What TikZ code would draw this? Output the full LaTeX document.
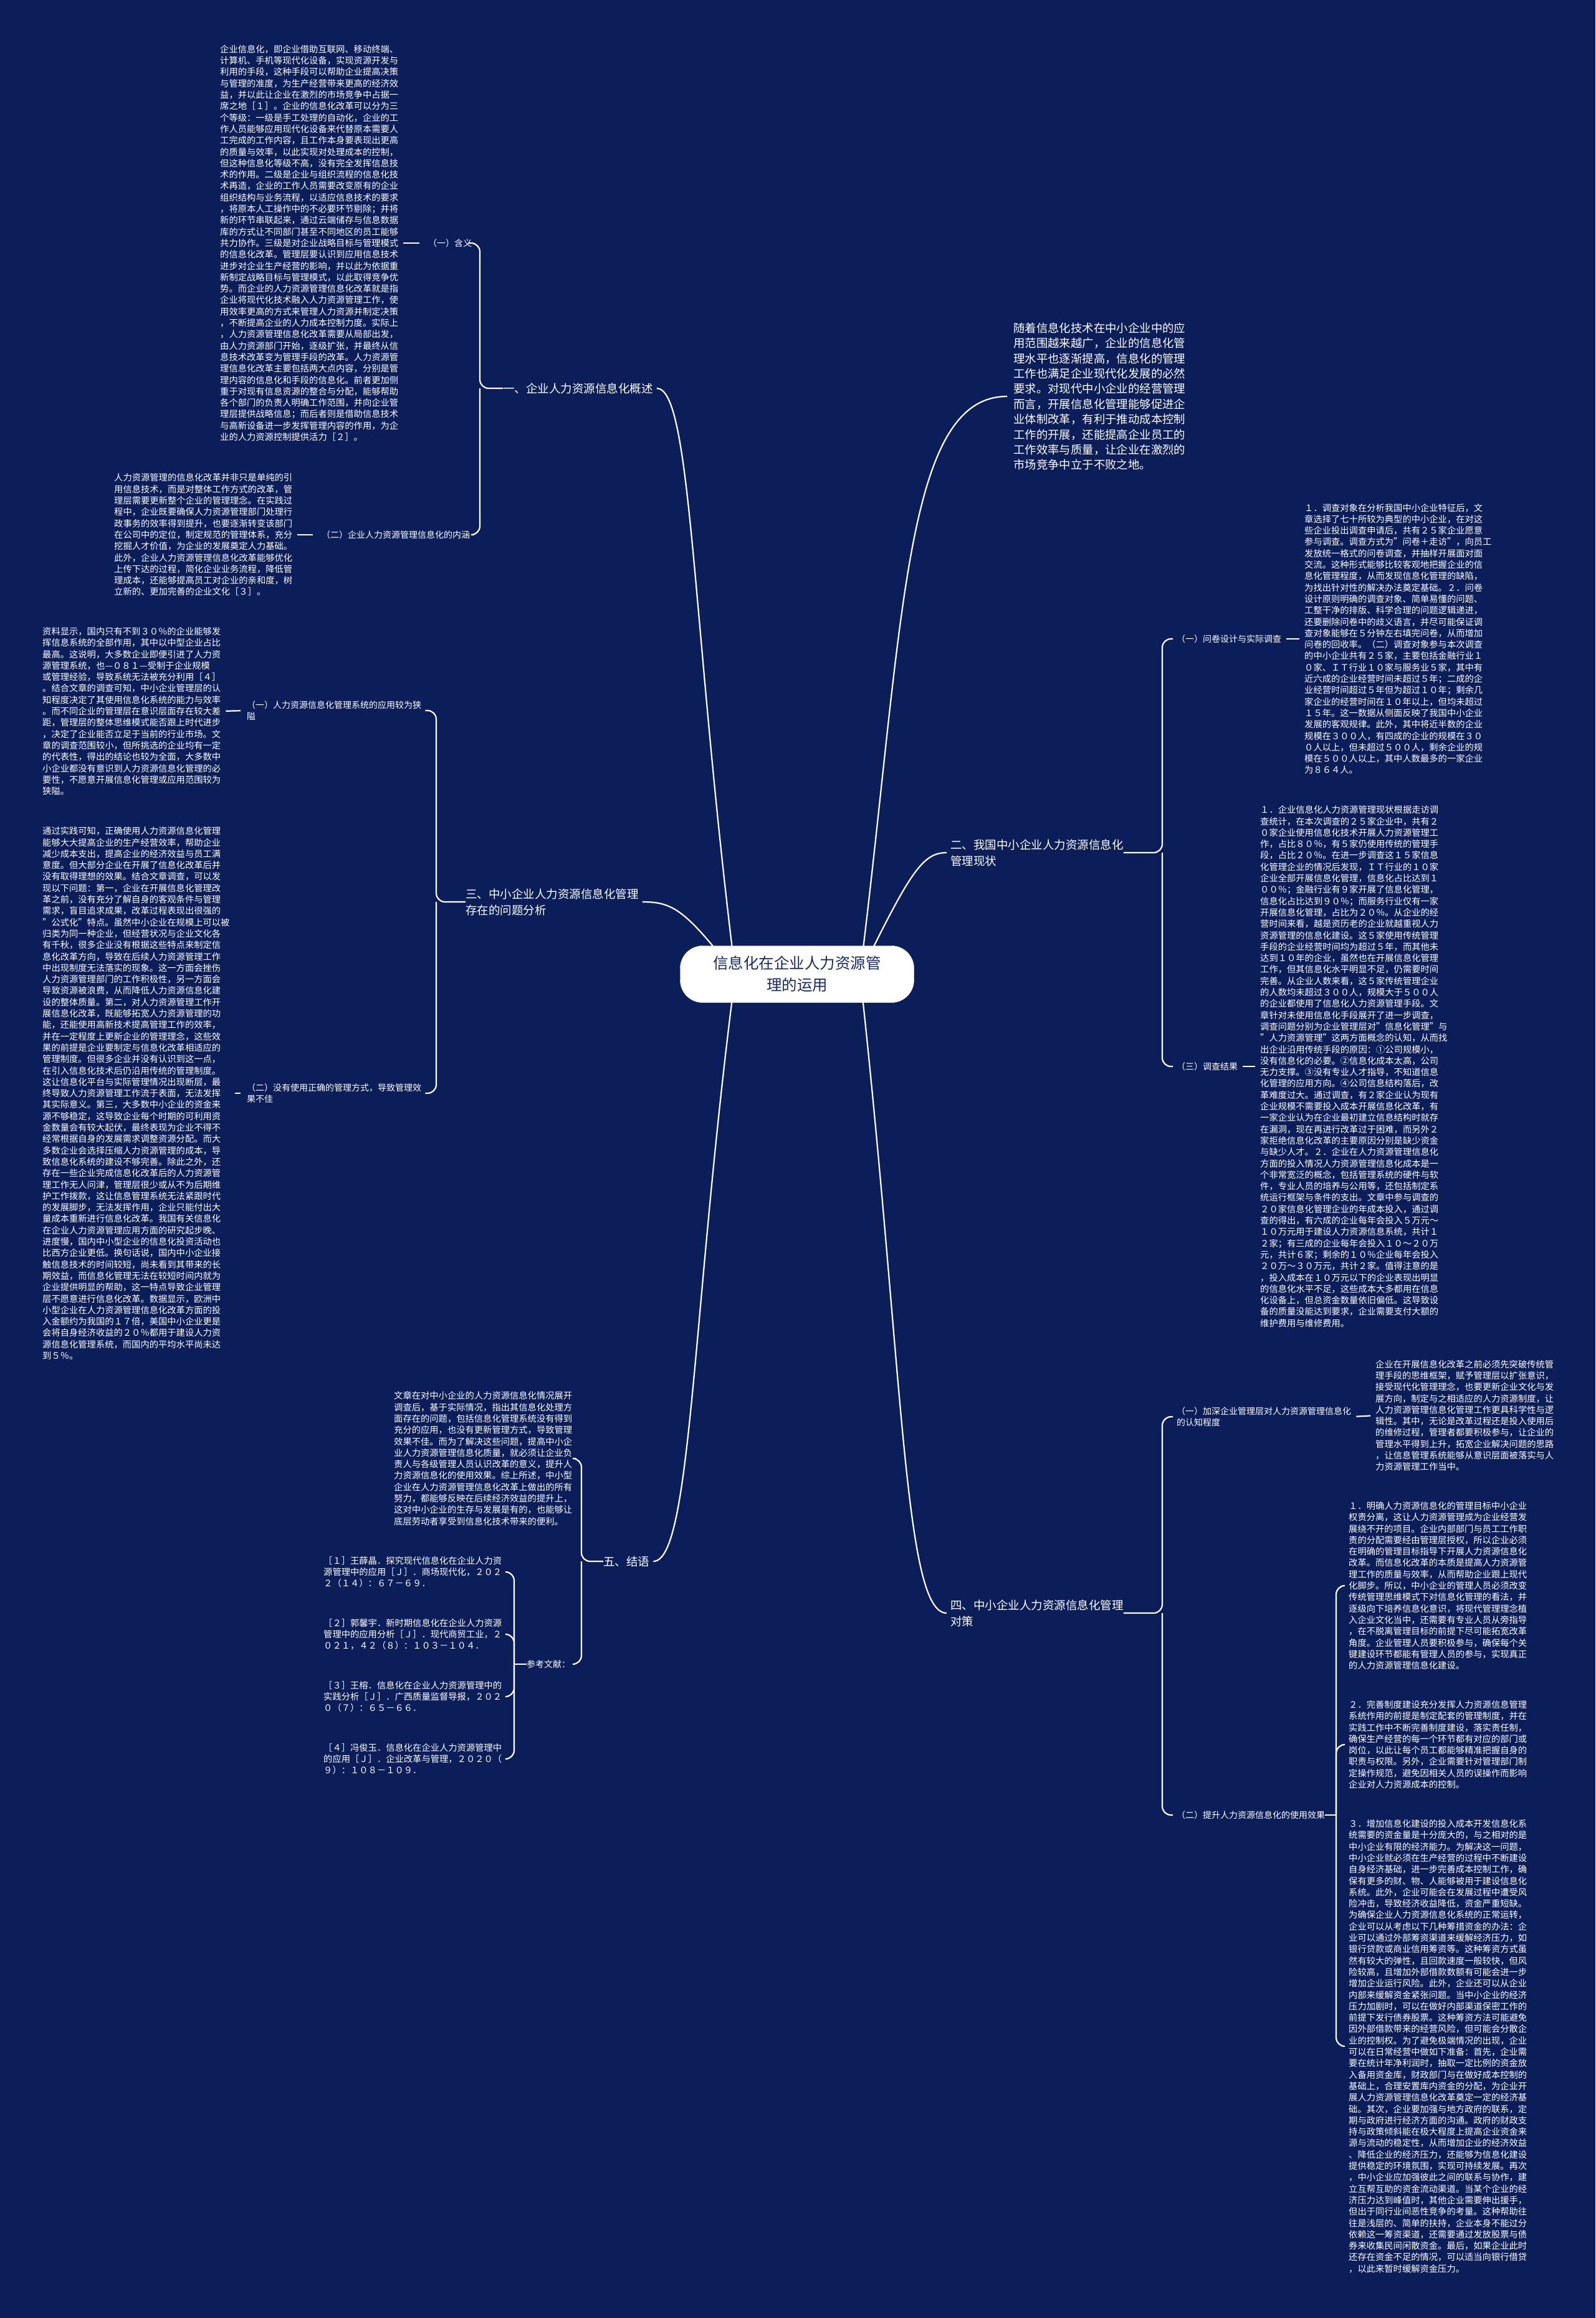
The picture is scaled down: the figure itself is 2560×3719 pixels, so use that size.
\documentclass[tikz,border=0pt]{standalone}
\usepackage{fontspec}
\setmainfont{Noto Sans CJK SC}
\usetikzlibrary{calc}
\definecolor{navy}{RGB}{12,30,90}
\definecolor{inknavy}{RGB}{22,42,108}

\begin{document}
\begin{tikzpicture}[x=1pt,y=-1pt,
  line/.style={draw=white,line width=2.2pt},
  tree/.style={line,rounded corners=14pt},
  body/.style={text=white,inner sep=0pt,anchor=west,align=left,font=\fontsize{14.3}{18.3}\selectfont},
  sub/.style={text=white,inner sep=0pt,anchor=west,align=left,font=\fontsize{14}{18.3}\selectfont},
  topic/.style={text=white,inner sep=0pt,anchor=west,align=left,font=\fontsize{18.5}{26}\selectfont}]
\fill[navy] (0,0) rectangle (2560,3719);
\useasboundingbox (0,0) rectangle (2560,3719);

\node[body] (txtMeaning) at (353,390) {企业信息化，即企业借助互联网、移动终端、\\计算机、手机等现代化设备，实现资源开发与\\利用的手段，这种手段可以帮助企业提高决策\\与管理的准度，为生产经营带来更高的经济效\\益，并以此让企业在激烈的市场竞争中占据一\\席之地［１］。企业的信息化改革可以分为三\\个等级：一级是手工处理的自动化，企业的工\\作人员能够应用现代化设备来代替原本需要人\\工完成的工作内容，且工作本身要表现出更高\\的质量与效率，以此实现对处理成本的控制，\\但这种信息化等级不高，没有完全发挥信息技\\术的作用。二级是企业与组织流程的信息化技\\术再造，企业的工作人员需要改变原有的企业\\组织结构与业务流程，以适应信息技术的要求\\，将原本人工操作中的不必要环节剔除；并将\\新的环节串联起来，通过云端储存与信息数据\\库的方式让不同部门甚至不同地区的员工能够\\共力协作。三级是对企业战略目标与管理模式\\的信息化改革。管理层要认识到应用信息技术\\进步对企业生产经营的影响，并以此为依据重\\新制定战略目标与管理模式，以此取得竞争优\\势。而企业的人力资源管理信息化改革就是指\\企业将现代化技术融入人力资源管理工作，使\\用效率更高的方式来管理人力资源并制定决策\\，不断提高企业的人力成本控制力度。实际上\\，人力资源管理信息化改革需要从局部出发，\\由人力资源部门开始，逐级扩张，并最终从信\\息技术改革变为管理手段的改革。人力资源管\\理信息化改革主要包括两大点内容，分别是管\\理内容的信息化和手段的信息化。前者更加侧\\重于对现有信息资源的整合与分配，能够帮助\\各个部门的负责人明确工作范围，并向企业管\\理层提供战略信息；而后者则是借助信息技术\\与高新设备进一步发挥管理内容的作用，为企\\业的人力资源控制提供活力［２］。};
\node[sub] (labMeaning) at (687,390) {（一）含义};
\node[body] (txtCore) at (183,858) {人力资源管理的信息化改革并非只是单纯的引\\用信息技术，而是对整体工作方式的改革，管\\理层需要更新整个企业的管理理念。在实践过\\程中，企业既要确保人力资源管理部门处理行\\政事务的效率得到提升，也要逐渐转变该部门\\在公司中的定位，制定规范的管理体系，充分\\挖掘人才价值，为企业的发展奠定人力基础。\\此外，企业人力资源管理信息化改革能够优化\\上传下达的过程，简化企业业务流程，降低管\\理成本，还能够提高员工对企业的亲和度，树\\立新的、更加完善的企业文化［３］。};
\node[sub] (labCore) at (516,858) {（二）企业人力资源管理信息化的内涵};
\node[topic] (labOverview) at (807,623) {一、企业人力资源信息化概述};

\node[body] (txtNarrow) at (68,1141) {资料显示，国内只有不到３０％的企业能够发\\挥信息系统的全部作用，其中以中型企业占比\\最高。这说明，大多数企业即便引进了人力资\\源管理系统，也—０８１—受制于企业规模\\或管理经验，导致系统无法被充分利用［４］\\。结合文章的调查可知，中小企业管理层的认\\知程度决定了其使用信息化系统的能力与效率\\。而不同企业的管理层在意识层面存在较大差\\距，管理层的整体思维模式能否跟上时代进步\\，决定了企业能否立足于当前的行业市场。文\\章的调查范围较小，但所挑选的企业均有一定\\的代表性，得出的结论也较为全面，大多数中\\小企业都没有意识到人力资源信息化管理的必\\要性，不愿意开展信息化管理或应用范围较为\\狭隘。};
\node[sub] (labNarrow) at (396,1140) {（一）人力资源信息化管理系统的应用较为狭\\隘};
\node[body] (txtMethod) at (68,1754) {通过实践可知，正确使用人力资源信息化管理\\能够大大提高企业的生产经营效率，帮助企业\\减少成本支出，提高企业的经济效益与员工满\\意度。但大部分企业在开展了信息化改革后并\\没有取得理想的效果。结合文章调查，可以发\\现以下问题：第一，企业在开展信息化管理改\\革之前，没有充分了解自身的客观条件与管理\\需求，盲目追求成果，改革过程表现出很强的\\"公式化"特点。虽然中小企业在规模上可以被\\归类为同一种企业，但经营状况与企业文化各\\有千秋，很多企业没有根据这些特点来制定信\\息化改革方向，导致在后续人力资源管理工作\\中出现制度无法落实的现象。这一方面会挫伤\\人力资源管理部门的工作积极性，另一方面会\\导致资源被浪费，从而降低人力资源信息化建\\设的整体质量。第二，对人力资源管理工作开\\展信息化改革，既能够拓宽人力资源管理的功\\能，还能使用高新技术提高管理工作的效率，\\并在一定程度上更新企业的管理理念，这些效\\果的前提是企业要制定与信息化改革相适应的\\管理制度。但很多企业并没有认识到这一点，\\在引入信息化技术后仍沿用传统的管理制度。\\这让信息化平台与实际管理情况出现断层，最\\终导致人力资源管理工作流于表面，无法发挥\\其实际意义。第三，大多数中小企业的资金来\\源不够稳定，这导致企业每个时期的可利用资\\金数量会有较大起伏，最终表现为企业不得不\\经常根据自身的发展需求调整资源分配。而大\\多数企业会选择压缩人力资源管理的成本，导\\致信息化系统的建设不够完善。除此之外，还\\存在一些企业完成信息化改革后的人力资源管\\理工作无人问津，管理层很少或从不为后期维\\护工作拨款，这让信息管理系统无法紧跟时代\\的发展脚步，无法发挥作用，企业只能付出大\\量成本重新进行信息化改革。我国有关信息化\\在企业人力资源管理应用方面的研究起步晚、\\进度慢，国内中小型企业的信息化投资活动也\\比西方企业更低。换句话说，国内中小企业接\\触信息技术的时间较短，尚未看到其带来的长\\期效益，而信息化管理无法在较短时间内就为\\企业提供明显的帮助，这一特点导致企业管理\\层不愿意进行信息化改革。数据显示，欧洲中\\小型企业在人力资源管理信息化改革方面的投\\入金额约为我国的１７倍，美国中小企业更是\\会将自身经济收益的２０％都用于建设人力资\\源信息化管理系统，而国内的平均水平尚未达\\到５％。};
\node[sub] (labMethod) at (396,1754) {（二）没有使用正确的管理方式，导致管理效\\果不佳};
\node[topic] (labProblem) at (747,1447) {三、中小企业人力资源信息化管理\\存在的问题分析};

\node[body] (txtSummary) at (632,2340) {文章在对中小企业的人力资源信息化情况展开\\调查后，基于实际情况，指出其信息化处理方\\面存在的问题，包括信息化管理系统没有得到\\充分的应用，也没有更新管理方式，导致管理\\效果不佳。而为了解决这些问题，提高中小企\\业人力资源管理信息化质量，就必须让企业负\\责人与各级管理人员认识改革的意义，提升人\\力资源信息化的使用效果。综上所述，中小型\\企业在人力资源管理信息化改革上做出的所有\\努力，都能够反映在后续经济效益的提升上，\\这对中小企业的生存与发展是有的，也能够让\\底层劳动者享受到信息化技术带来的便利。};
\node[sub] (labRefs) at (845,2670) {参考文献：};
\node[body] (refA) at (519,2522) {［１］王薛晶．探究现代信息化在企业人力资\\源管理中的应用［Ｊ］．商场现代化，２０２\\２（１４）：６７－６９．};
\node[body] (refB) at (519,2622) {［２］郭馨宇．新时期信息化在企业人力资源\\管理中的应用分析［Ｊ］．现代商贸工业，２\\０２１，４２（８）：１０３－１０４．};
\node[body] (refC) at (519,2722) {［３］王榕．信息化在企业人力资源管理中的\\实践分析［Ｊ］．广西质量监督导报，２０２\\０（７）：６５－６６．};
\node[body] (refD) at (519,2822) {［４］冯俊玉．信息化在企业人力资源管理中\\的应用［Ｊ］．企业改革与管理，２０２０（\\９）：１０８－１０９．};
\node[topic] (labEnd) at (968,2505) {五、结语};

\node[text=white,inner sep=0pt,anchor=west,align=left,font=\fontsize{18.4}{24.4}\selectfont] (txtIntro) at (1626,636) {随着信息化技术在中小企业中的应\\用范围越来越广，企业的信息化管\\理水平也逐渐提高，信息化的管理\\工作也满足企业现代化发展的必然\\要求。对现代中小企业的经营管理\\而言，开展信息化管理能够促进企\\业体制改革，有利于推动成本控制\\工作的开展，还能提高企业员工的\\工作效率与质量，让企业在激烈的\\市场竞争中立于不败之地。};

\node[topic] (labStatus) at (1525,1368) {二、我国中小企业人力资源信息化\\管理现状};
\node[sub] (labSurvey) at (1888,1025) {（一）问卷设计与实际调查};
\node[body] (txtSurvey) at (2093,1025) {１．调查对象在分析我国中小企业特征后，文\\章选择了七十所较为典型的中小企业，在对这\\些企业投出调查申请后，共有２５家企业愿意\\参与调查。调查方式为"问卷＋走访"，向员工\\发放统一格式的问卷调查，并抽样开展面对面\\交流。这种形式能够比较客观地把握企业的信\\息化管理程度，从而发现信息化管理的缺陷，\\为找出针对性的解决办法奠定基础。２．问卷\\设计原则明确的调查对象、简单易懂的问题、\\工整干净的排版、科学合理的问题逻辑递进，\\还要删除问卷中的歧义语言，并尽可能保证调\\查对象能够在５分钟左右填完问卷，从而增加\\问卷的回收率。（二）调查对象参与本次调查\\的中小企业共有２５家，主要包括金融行业１\\０家、ＩＴ行业１０家与服务业５家，其中有\\近六成的企业经营时间未超过５年；二成的企\\业经营时间超过５年但为超过１０年；剩余几\\家企业的经营时间在１０年以上，但均未超过\\１５年。这一数据从侧面反映了我国中小企业\\发展的客观规律。此外，其中将近半数的企业\\规模在３００人，有四成的企业的规模在３０\\０人以上，但未超过５００人，剩余企业的规\\模在５００人以上，其中人数最多的一家企业\\为８６４人。};
\node[sub] (labResult) at (1888,1711) {（三）调查结果};
\node[body] (txtResult) at (2022,1711) {１．企业信息化人力资源管理现状根据走访调\\查统计，在本次调查的２５家企业中，共有２\\０家企业使用信息化技术开展人力资源管理工\\作，占比８０％，有５家仍使用传统的管理手\\段，占比２０％。在进一步调查这１５家信息\\化管理企业的情况后发现，ＩＴ行业的１０家\\企业全部开展信息化管理，信息化占比达到１\\００％；金融行业有９家开展了信息化管理，\\信息化占比达到９０％；而服务行业仅有一家\\开展信息化管理，占比为２０％。从企业的经\\营时间来看，越是资历老的企业就越重视人力\\资源管理的信息化建设。这５家使用传统管理\\手段的企业经营时间均为超过５年，而其他未\\达到１０年的企业，虽然也在开展信息化管理\\工作，但其信息化水平明显不足，仍需要时间\\完善。从企业人数来看，这５家传统管理企业\\的人数均未超过３００人，规模大于５００人\\的企业都使用了信息化人力资源管理手段。文\\章针对未使用信息化手段展开了进一步调查，\\调查问题分别为企业管理层对"信息化管理"与\\"人力资源管理"这两方面概念的认知，从而找\\出企业沿用传统手段的原因：①公司规模小，\\没有信息化的必要。②信息化成本太高，公司\\无力支撑。③没有专业人才指导，不知道信息\\化管理的应用方向。④公司信息结构落后，改\\革难度过大。通过调查，有２家企业认为现有\\企业规模不需要投入成本开展信息化改革，有\\一家企业认为在企业最初建立信息结构时就存\\在漏洞，现在再进行改革过于困难，而另外２\\家拒绝信息化改革的主要原因分别是缺少资金\\与缺少人才。２．企业在人力资源管理信息化\\方面的投入情况人力资源管理信息化成本是一\\个非常宽泛的概念，包括管理系统的硬件与软\\件，专业人员的培养与公用等，还包括制定系\\统运行框架与条件的支出。文章中参与调查的\\２０家信息化管理企业的年成本投入，通过调\\查的得出，有六成的企业每年会投入５万元～\\１０万元用于建设人力资源信息系统，共计１\\２家；有三成的企业每年会投入１０～２０万\\元，共计６家；剩余的１０％企业每年会投入\\２０万～３０万元，共计２家。值得注意的是\\，投入成本在１０万元以下的企业表现出明显\\的信息化水平不足，这些成本大多都用在信息\\化设备上，但总资金数量依旧偏低。这导致设\\备的质量没能达到要求，企业需要支付大额的\\维护费用与维修费用。};

\node[topic] (labMeasure) at (1525,2588) {四、中小企业人力资源信息化管理\\对策};
\node[sub] (labCognition) at (1888,2273) {（一）加深企业管理层对人力资源管理信息化\\的认知程度};
\node[body] (txtCognition) at (2207,2271) {企业在开展信息化改革之前必须先突破传统管\\理手段的思维框架，赋予管理层以扩张意识，\\接受现代化管理理念，也要更新企业文化与发\\展方向，制定与之相适应的人力资源制度，让\\人力资源管理信息化管理工作更具科学性与逻\\辑性。其中，无论是改革过程还是投入使用后\\的维修过程，管理者都要积极参与，让企业的\\管理水平得到上升，拓宽企业解决问题的思路\\，让信息管理系统能够从意识层面被落实与人\\力资源管理工作当中。};
\node[sub] (labEffect) at (1888,2912) {（二）提升人力资源信息化的使用效果};
\node[body] (txtGoal) at (2164,2544) {１．明确人力资源信息化的管理目标中小企业\\权责分离，这让人力资源管理成为企业经营发\\展绕不开的项目。企业内部部门与员工工作职\\责的分配需要经由管理层授权，所以企业必须\\在明确的管理目标指导下开展人力资源信息化\\改革。而信息化改革的本质是提高人力资源管\\理工作的质量与效率，从而帮助企业跟上现代\\化脚步。所以，中小企业的管理人员必须改变\\传统管理思维模式下对信息化管理的看法，并\\逐级向下培养信息化意识，将现代管理理念植\\入企业文化当中，还需要有专业人员从旁指导\\，在不脱离管理目标的前提下尽可能拓宽改革\\角度。企业管理人员要积极参与，确保每个关\\键建设环节都能有管理人员的参与，实现真正\\的人力资源管理信息化建设。};
\node[body] (txtSystem) at (2164,2799) {２．完善制度建设充分发挥人力资源信息管理\\系统作用的前提是制定配套的管理制度，并在\\实践工作中不断完善制度建设，落实责任制，\\确保生产经营的每一个环节都有对应的部门或\\岗位，以此让每个员工都能够精准把握自身的\\职责与权限。另外，企业需要针对管理部门制\\定操作规范，避免因相关人员的误操作而影响\\企业对人力资源成本的控制。};
\node[body] (txtFund) at (2164,3283) {３．增加信息化建设的投入成本开发信息化系\\统需要的资金量是十分庞大的，与之相对的是\\中小企业有限的经济能力。为解决这一问题，\\中小企业就必须在生产经营的过程中不断建设\\自身经济基础，进一步完善成本控制工作，确\\保有更多的财、物、人能够被用于建设信息化\\系统。此外，企业可能会在发展过程中遭受风\\险冲击，导致经济收益降低，资金严重短缺。\\为确保企业人力资源信息化系统的正常运转，\\企业可以从考虑以下几种筹措资金的办法：企\\业可以通过外部筹资渠道来缓解经济压力，如\\银行贷款或商业信用筹资等。这种筹资方式虽\\然有较大的弹性，且回款速度一般较快，但风\\险较高，且增加外部借款数额有可能会进一步\\增加企业运行风险。此外，企业还可以从企业\\内部来缓解资金紧张问题。当中小企业的经济\\压力加剧时，可以在做好内部渠道保密工作的\\前提下发行债券股票。这种筹资方法可能避免\\因外部借款带来的经营风险，但可能会分散企\\业的控制权。为了避免极端情况的出现，企业\\可以在日常经营中做如下准备：首先，企业需\\要在统计年净利润时，抽取一定比例的资金放\\入备用资金库，财政部门与在做好成本控制的\\基础上，合理安置库内资金的分配，为企业开\\展人力资源管理信息化改革奠定一定的经济基\\础。其次，企业要加强与地方政府的联系，定\\期与政府进行经济方面的沟通。政府的财政支\\持与政策倾斜能在极大程度上提高企业资金来\\源与流动的稳定性，从而增加企业的经济效益\\、降低企业的经济压力，还能够为信息化建设\\提供稳定的环境氛围，实现可持续发展。再次\\，中小企业应加强彼此之间的联系与协作，建\\立互帮互助的资金流动渠道。当某个企业的经\\济压力达到峰值时，其他企业需要伸出援手，\\但出于同行业间恶性竞争的考量。这种帮助往\\往是浅层的、简单的扶持，企业本身不能过分\\依赖这一筹资渠道，还需要通过发放股票与债\\券来收集民间闲散资金。最后，如果企业此时\\还存在资金不足的情况，可以适当向银行借贷\\，以此来暂时缓解资金压力。};

\coordinate (brOverview) at (770,623);
\coordinate (brProblem) at (700,1447);
\coordinate (brEnd) at (933,2505);
\coordinate (brRefs) at (825,2670);
\coordinate (brStatus) at (1865,1368);
\coordinate (brMeasure) at (1865,2588);
\coordinate (brEffect) at (2144,2912);

\draw[line,shorten <=8pt,shorten >=14pt] (txtMeaning.east) -- (labMeaning.west);
\draw[line,shorten <=8pt,shorten >=14pt] (txtCore.east) -- (labCore.west);
\draw[line,shorten <=8pt,shorten >=10pt] (txtNarrow.east) -- (labNarrow.west);
\draw[line,shorten <=8pt,shorten >=10pt] (txtMethod.east) -- (labMethod.west);
\draw[line,shorten <=8pt,shorten >=8pt] (labSurvey.east) -- (txtSurvey.west);
\draw[line,shorten <=8pt,shorten >=8pt] (labResult.east) -- (txtResult.west);
\draw[line,shorten <=8pt,shorten >=8pt] (labCognition.east) -- (txtCognition.west);

\draw[tree,shorten <=6pt] (labMeaning.east) -- (brOverview |- labMeaning.east) -- (brOverview) -- (labOverview.west);
\draw[tree,shorten <=6pt] (labCore.east) -- (brOverview |- labCore.east) -- (brOverview);
\draw[tree,shorten <=6pt] (labNarrow.east) -- (brProblem |- labNarrow.east) -- (brProblem) -- (labProblem.west);
\draw[tree,shorten <=6pt] (labMethod.east) -- (brProblem |- labMethod.east) -- (brProblem);
\draw[tree,shorten <=6pt] (txtSummary.east) -- (brEnd |- txtSummary.east) -- (brEnd) -- (labEnd.west);
\draw[tree,shorten <=6pt] (labRefs.east) -- (brEnd |- labRefs.east) -- (brEnd);
\foreach \r in {refA,refB,refC,refD}
  \draw[tree,shorten <=6pt] (\r.east) -- (brRefs |- \r.east) -- (brRefs);
\draw[line] (brRefs) -- (labRefs.west);
\draw[tree,shorten <=6pt] (labSurvey.west) -- (brStatus |- labSurvey.west) -- (brStatus) -- (labStatus.east);
\draw[tree,shorten <=6pt] (labResult.west) -- (brStatus |- labResult.west) -- (brStatus);
\draw[tree,shorten <=6pt] (labCognition.west) -- (brMeasure |- labCognition.west) -- (brMeasure) -- (labMeasure.east);
\draw[tree,shorten <=6pt] (labEffect.west) -- (brMeasure |- labEffect.west) -- (brMeasure);
\foreach \t in {txtGoal,txtSystem,txtFund}
  \draw[tree,shorten <=6pt] (\t.west) -- (brEffect |- \t.west) -- (brEffect);
\draw[line] (brEffect) -- (labEffect.east);

\draw[line] (1180,1563) .. controls (1110,1000) and (1110,623) .. ([xshift=6pt]labOverview.east);
\draw[line] (1180,1563) .. controls (1100,1460) and (1080,1447) .. ([xshift=6pt]labProblem.east);
\draw[line] (1180,1563) .. controls (1110,2100) and (1110,2505) .. ([xshift=6pt]labEnd.east);
\draw[line] (1380,1563) .. controls (1450,1000) and (1450,636) .. ([xshift=-10pt]txtIntro.west);
\draw[line] (1380,1563) .. controls (1460,1400) and (1480,1368) .. ([xshift=-6pt]labStatus.west);
\draw[line] (1380,1563) .. controls (1450,2200) and (1450,2588) .. ([xshift=-6pt]labMeasure.west);

\node[draw=white,fill=white,rounded corners=36pt,minimum width=375pt,minimum height=91pt,align=center,text=inknavy,font=\fontsize{24.5}{35}\selectfont] (ctr) at (1279,1563) {信息化在企业人力资源管\\理的运用};
\end{tikzpicture}
\end{document}
